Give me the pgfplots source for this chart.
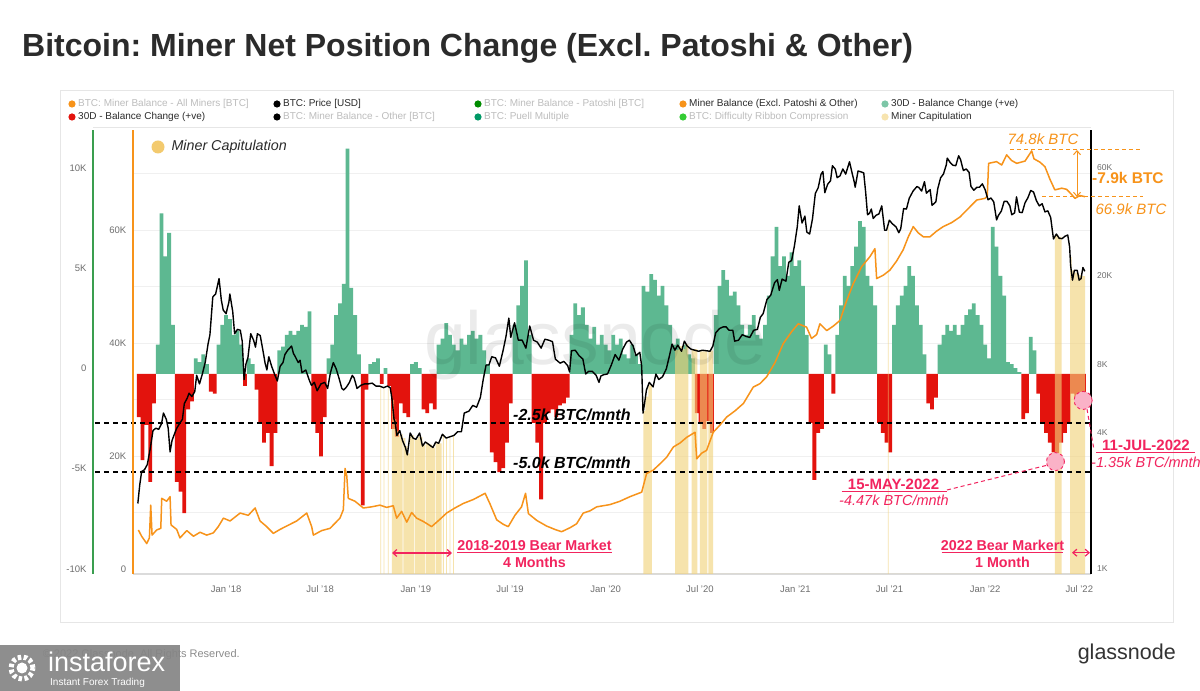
\documentclass[border=0pt]{standalone}
\usepackage{fontspec}
\setmainfont{Liberation Sans}
\usepackage{pgfplots}
\pgfplotsset{compat=1.18}
\usepackage{pgfplotstable}
\usetikzlibrary{arrows.meta}
\frenchspacing

\definecolor{gbar}{HTML}{5DB891}
\definecolor{rbar}{HTML}{E3130D}
\definecolor{oline}{HTML}{F7931A}
\definecolor{capy}{HTML}{F2D27A}
\definecolor{pinkc}{HTML}{F2245E}
\definecolor{greenax}{HTML}{3A9E4F}
\definecolor{tickc}{HTML}{6E6E6E}
\definecolor{lgray}{HTML}{BDBDBD}
\definecolor{dtext}{HTML}{2B2B2B}
\definecolor{gridc}{HTML}{F0F0F0}
\definecolor{framec}{HTML}{E6E6E6}

% 30D balance change (K BTC)
\pgfplotstableread{
x v
2017.54 -2.2
2017.56 -4.4
2017.58 -2.6
2017.60 -5.5
2017.62 -1.5
2017.64 1.5
2017.66 8.2
2017.68 6.0
2017.70 7.2
2017.72 2.5
2017.74 -5.5
2017.76 -6.0
2017.78 -7.1
2017.80 -1.8
2017.82 -1.4
2017.84 0.8
2017.86 0.6
2017.88 1.0
2017.90 0.5
2017.92 -0.9
2017.94 -1.0
2017.96 1.5
2017.98 2.5
2018.00 3.0
2018.02 2.8
2018.04 2.0
2018.06 2.2
2018.08 1.5
2018.10 -0.6
2018.12 0.8
2018.14 0.5
2018.16 -0.8
2018.18 -2.5
2018.20 -3.5
2018.22 -3.0
2018.24 -4.7
2018.26 -3.0
2018.28 1.2
2018.30 1.4
2018.32 2.0
2018.34 2.2
2018.36 2.0
2018.38 2.2
2018.40 2.5
2018.42 2.4
2018.44 3.2
2018.46 -2.5
2018.48 -3.0
2018.50 -4.2
2018.52 -2.2
2018.54 0.8
2018.56 1.5
2018.58 3.0
2018.60 3.6
2018.62 4.6
2018.64 11.5
2018.66 4.4
2018.68 3.0
2018.70 1.0
2018.72 -6.7
2018.74 -0.8
2018.76 0.5
2018.78 0.6
2018.80 0.8
2018.82 -0.5
2018.84 0.3
2018.86 -0.6
2018.88 -2.8
2018.90 -3.2
2018.92 -1.5
2018.94 -2.0
2018.96 -2.2
2018.98 0.5
2019.00 0.6
2019.02 0.3
2019.04 -1.8
2019.06 -2.0
2019.08 -1.5
2019.10 -1.8
2019.12 1.5
2019.14 1.8
2019.16 2.6
2019.18 2.0
2019.20 1.5
2019.22 1.2
2019.24 1.8
2019.26 1.5
2019.28 2.0
2019.30 2.2
2019.32 1.8
2019.34 2.0
2019.36 1.2
2019.38 0.5
2019.40 -4.0
2019.42 -4.5
2019.44 -5.0
2019.46 -4.8
2019.48 -3.5
2019.50 -1.5
2019.52 2.5
2019.54 3.5
2019.56 4.5
2019.58 5.8
2019.60 2.0
2019.62 -2.5
2019.64 -3.5
2019.66 -6.4
2019.68 -2.5
2019.70 -2.0
2019.72 -1.8
2019.74 -2.2
2019.76 -1.6
2019.78 -1.5
2019.80 -1.2
2019.82 2.0
2019.84 3.6
2019.86 3.0
2019.88 3.4
2019.90 2.5
2019.92 1.8
2019.94 2.4
2019.96 1.5
2019.98 2.0
2020.00 1.5
2020.02 1.2
2020.04 2.0
2020.06 1.5
2020.08 1.8
2020.10 1.0
2020.12 0.8
2020.14 1.5
2020.16 1.0
2020.18 0.5
2020.20 4.5
2020.22 4.2
2020.24 5.1
2020.26 4.8
2020.28 4.0
2020.30 4.5
2020.32 3.5
2020.34 2.5
2020.36 1.5
2020.38 1.8
2020.40 1.2
2020.42 1.5
2020.44 1.0
2020.46 0.8
2020.48 -2.0
2020.50 -2.5
2020.52 -2.8
2020.54 -2.4
2020.56 -3.0
2020.58 3.0
2020.60 4.5
2020.62 5.3
2020.64 4.8
2020.66 4.0
2020.68 4.2
2020.70 3.5
2020.72 2.5
2020.74 2.0
2020.76 2.5
2020.78 3.0
2020.80 2.0
2020.82 1.8
2020.84 2.5
2020.86 4.0
2020.88 6.0
2020.90 7.5
2020.92 5.5
2020.94 6.0
2020.96 5.0
2020.98 6.2
2021.00 5.5
2021.02 5.8
2021.04 4.5
2021.06 2.0
2021.08 -2.5
2021.10 -5.4
2021.12 -3.0
2021.14 -2.8
2021.16 1.5
2021.18 1.0
2021.20 -1.0
2021.22 2.0
2021.24 3.5
2021.26 5.0
2021.28 4.5
2021.30 5.5
2021.32 6.5
2021.34 7.8
2021.36 7.5
2021.38 5.0
2021.40 4.5
2021.42 3.5
2021.44 -2.5
2021.46 -3.0
2021.48 -3.5
2021.50 -4.0
2021.52 2.5
2021.54 3.5
2021.56 4.0
2021.58 4.5
2021.60 5.5
2021.62 5.0
2021.64 3.5
2021.66 2.5
2021.68 1.0
2021.70 -1.5
2021.72 -1.8
2021.74 -1.2
2021.76 1.5
2021.78 2.0
2021.80 2.5
2021.82 2.2
2021.84 2.5
2021.86 2.0
2021.88 2.5
2021.90 3.0
2021.92 3.3
2021.94 3.6
2021.96 3.0
2021.98 2.5
2022.00 1.5
2022.02 0.8
2022.04 7.5
2022.06 6.5
2022.08 5.0
2022.10 4.0
2022.12 0.6
2022.14 0.5
2022.16 0.3
2022.18 0.1
2022.20 -2.3
2022.22 -2.0
2022.24 1.9
2022.26 1.2
2022.28 -1.0
2022.30 -2.5
2022.32 -3.0
2022.34 -3.5
2022.36 -4.0
2022.38 -4.47
2022.40 -3.5
2022.42 -3.0
2022.44 -2.5
2022.46 -1.0
2022.48 -1.3
2022.50 -1.5
2022.52 -1.35
}\barsdata

% BTC price (USD)
\pgfplotstableread{
x p
2017.535 1950
2017.545 2350
2017.555 2700
2017.57 2750
2017.585 2900
2017.60 3400
2017.615 4100
2017.63 4200
2017.645 4150
2017.66 4400
2017.67 4900
2017.685 4600
2017.695 4200
2017.705 3300
2017.715 3700
2017.725 3900
2017.74 4200
2017.755 4400
2017.77 4600
2017.78 5400
2017.795 5700
2017.805 6000
2017.82 5800
2017.835 6100
2017.845 7200
2017.86 6600
2017.875 7300
2017.89 8200
2017.905 9900
2017.915 10900
2017.93 16000
2017.945 16500
2017.963 19300
2017.975 15500
2017.985 14000
2018.00 13500
2018.015 15200
2018.02 16500
2018.035 13800
2018.045 11000
2018.06 11500
2018.075 11400
2018.085 10200
2018.095 6900
2018.105 8100
2018.115 8600
2018.13 11000
2018.145 10300
2018.155 9600
2018.165 11000
2018.18 10800
2018.195 9200
2018.205 8200
2018.215 7600
2018.225 8700
2018.24 7900
2018.255 7300
2018.27 6800
2018.285 7900
2018.30 8200
2018.31 8900
2018.325 9300
2018.345 9700
2018.355 9000
2018.365 8700
2018.38 8200
2018.39 8400
2018.40 7400
2018.42 7600
2018.44 6800
2018.45 6500
2018.465 6700
2018.48 6150
2018.50 6600
2018.52 6700
2018.535 6300
2018.55 7400
2018.565 8200
2018.58 7700
2018.595 7000
2018.61 6300
2018.62 6200
2018.635 6400
2018.65 6700
2018.665 7200
2018.675 7000
2018.69 6300
2018.71 6500
2018.73 6600
2018.75 6600
2018.77 6650
2018.79 6450
2018.81 6450
2018.83 6350
2018.85 6450
2018.865 6350
2018.875 5600
2018.885 4600
2018.89 4500
2018.90 3900
2018.915 4100
2018.93 3700
2018.945 3450
2018.955 3200
2018.965 3700
2018.97 4000
2018.985 3800
2019.00 3750
2019.02 4000
2019.035 3500
2019.05 3650
2019.07 3550
2019.09 3450
2019.105 3650
2019.12 3600
2019.14 3950
2019.16 3800
2019.18 3850
2019.20 3900
2019.22 4050
2019.24 4050
2019.255 4900
2019.28 5000
2019.30 5300
2019.32 5200
2019.34 5750
2019.355 6900
2019.37 8000
2019.385 8000
2019.40 8700
2019.42 8600
2019.44 7900
2019.46 9300
2019.475 10700
2019.49 12900
2019.50 10600
2019.52 12300
2019.54 10300
2019.56 10300
2019.58 9500
2019.60 11900
2019.62 10300
2019.64 10100
2019.66 9500
2019.68 10400
2019.70 10300
2019.72 10150
2019.735 8500
2019.76 8150
2019.78 8300
2019.80 7950
2019.81 7450
2019.82 9250
2019.84 9300
2019.86 8800
2019.88 8500
2019.895 7300
2019.91 7500
2019.93 7500
2019.95 7200
2019.965 6700
2019.975 7150
2019.99 7250
2020.01 7300
2020.03 8000
2020.05 8900
2020.07 8400
2020.09 9400
2020.11 10100
2020.125 10300
2020.145 9700
2020.16 8800
2020.18 9100
2020.19 7900
2020.197 4900
2020.205 5400
2020.215 6200
2020.23 6700
2020.25 6400
2020.265 7300
2020.28 6900
2020.30 7100
2020.32 7700
2020.335 8700
2020.35 9900
2020.365 9300
2020.38 9800
2020.40 9200
2020.415 10200
2020.43 9700
2020.45 9400
2020.47 9300
2020.49 9200
2020.51 9300
2020.53 9250
2020.55 9200
2020.565 9700
2020.58 11100
2020.60 11600
2020.62 11800
2020.635 11800
2020.65 11400
2020.67 11400
2020.68 10200
2020.70 10300
2020.72 10900
2020.74 10700
2020.76 10600
2020.78 11400
2020.80 11500
2020.815 13000
2020.83 13500
2020.85 15600
2020.87 16300
2020.89 18500
2020.905 19100
2020.915 17100
2020.93 19200
2020.95 18800
2020.965 22800
2020.98 23200
2020.995 27000
2021.01 32800
2021.02 40500
2021.035 34000
2021.05 36500
2021.06 31000
2021.075 30400
2021.09 35500
2021.105 46000
2021.12 48700
2021.135 55900
2021.145 57500
2021.155 46300
2021.17 50500
2021.185 52300
2021.195 61000
2021.21 58900
2021.22 54000
2021.235 55000
2021.25 59000
2021.265 56000
2021.285 63500
2021.30 56000
2021.31 51700
2021.315 49000
2021.33 57800
2021.345 57300
2021.36 56700
2021.37 46700
2021.38 37000
2021.39 37500
2021.40 39200
2021.41 35600
2021.425 36800
2021.44 37300
2021.455 40500
2021.47 31600
2021.48 31600
2021.495 35000
2021.51 33800
2021.53 32700
2021.545 30800
2021.555 32100
2021.57 39400
2021.585 39200
2021.60 43800
2021.62 47100
2021.64 49300
2021.65 48900
2021.665 47100
2021.68 51800
2021.69 46100
2021.71 47800
2021.72 40700
2021.74 42200
2021.75 48200
2021.765 53900
2021.78 56000
2021.795 61500
2021.80 65900
2021.815 63100
2021.83 61300
2021.845 61000
2021.86 67500
2021.87 65000
2021.885 58100
2021.90 59000
2021.915 57000
2021.925 49400
2021.94 47500
2021.955 48900
2021.97 49000
2021.985 50700
2022.00 47700
2022.015 43100
2022.03 43900
2022.045 42200
2022.06 35100
2022.07 36800
2022.085 38400
2022.10 42400
2022.115 42400
2022.13 40500
2022.14 37000
2022.155 37700
2022.165 44400
2022.18 38000
2022.195 37800
2022.21 41800
2022.225 44000
2022.24 47400
2022.255 46600
2022.27 42700
2022.285 40500
2022.30 41400
2022.315 38100
2022.33 38500
2022.345 36000
2022.355 31000
2022.36 28900
2022.375 30400
2022.39 29100
2022.405 29000
2022.42 29700
2022.435 30100
2022.445 26600
2022.45 22100
2022.46 19000
2022.47 21000
2022.485 21000
2022.495 19000
2022.505 19300
2022.515 21600
2022.525 20800
}\pricedata

% Miner balance excl. Patoshi & Other (K BTC)
\pgfplotstableread{
x b
2017.538 6.9
2017.555 5.8
2017.582 4.5
2017.596 5.5
2017.603 11.3
2017.610 6.0
2017.634 6.9
2017.656 7.2
2017.661 12.5
2017.687 12.0
2017.705 12.8
2017.710 7.8
2017.740 7.0
2017.757 5.5
2017.793 6.8
2017.828 5.8
2017.863 6.5
2017.898 6.0
2017.933 6.4
2017.959 7.5
2017.986 9.0
2018.021 8.5
2018.074 9.9
2018.117 9.5
2018.153 10.8
2018.179 8.5
2018.214 7.5
2018.249 6.3
2018.284 7.0
2018.319 7.6
2018.372 8.5
2018.425 9.9
2018.451 7.5
2018.460 6.0
2018.504 6.8
2018.548 7.2
2018.600 9.0
2018.618 10.5
2018.627 17.8
2018.636 16.5
2018.644 12.5
2018.679 12.0
2018.723 10.8
2018.767 11.0
2018.811 11.3
2018.846 10.9
2018.881 11.2
2018.899 9.0
2018.925 10.2
2018.952 8.3
2018.978 10.0
2019.004 9.0
2019.040 8.4
2019.083 7.5
2019.127 8.8
2019.162 9.9
2019.206 10.8
2019.250 11.6
2019.303 12.3
2019.365 13.4
2019.391 11.5
2019.426 8.7
2019.461 7.9
2019.487 7.5
2019.522 9.5
2019.557 11.0
2019.578 13.4
2019.593 9.8
2019.637 8.6
2019.689 7.6
2019.733 7.0
2019.768 6.6
2019.812 7.3
2019.847 8.0
2019.882 9.9
2019.918 10.3
2019.953 11.0
2019.988 11.2
2020.023 11.4
2020.076 12.0
2020.128 12.8
2020.190 13.6
2020.216 16.9
2020.251 17.5
2020.286 18.6
2020.322 19.8
2020.357 21.6
2020.392 22.3
2020.427 23.3
2020.471 24.2
2020.480 19.5
2020.506 20.5
2020.532 21.0
2020.567 24.2
2020.603 25.5
2020.638 26.9
2020.682 28.0
2020.726 29.3
2020.778 32.2
2020.813 32.8
2020.848 34.0
2020.892 36.5
2020.936 39.9
2020.980 42.0
2021.015 43.4
2021.059 42.8
2021.085 40.8
2021.112 41.5
2021.129 43.4
2021.165 42.2
2021.200 43.0
2021.235 44.0
2021.270 47.5
2021.305 50.5
2021.349 53.5
2021.393 55.3
2021.419 56.7
2021.428 51.4
2021.463 52.0
2021.498 52.9
2021.533 54.5
2021.568 56.5
2021.595 58.8
2021.621 60.6
2021.647 59.5
2021.674 58.8
2021.709 58.8
2021.744 59.8
2021.779 60.6
2021.823 61.3
2021.867 62.3
2021.911 63.8
2021.955 65.3
2021.999 65.6
2022.011 66.0
2022.018 71.8
2022.060 72.1
2022.087 71.5
2022.113 73.3
2022.139 72.3
2022.166 71.8
2022.210 72.2
2022.245 74.0
2022.257 72.6
2022.289 72.0
2022.315 71.2
2022.341 69.0
2022.367 67.1
2022.403 67.4
2022.429 67.2
2022.455 66.3
2022.473 65.6
2022.499 66.1
2022.526 65.9
}\baldata

% Miner capitulation (area under price), 900 = none
\pgfplotstableread{
x p
2018.813 6400
2018.817 900
2018.830 6350
2018.834 900
2018.853 6350
2018.857 900
2018.873 5600
2018.885 4600
2018.897 4100
2018.910 3900
2018.925 3950
2018.930 900
2018.934 3800
2018.945 3500
2018.955 3250
2018.970 3900
2018.980 3900
2018.990 900
2018.994 3750
2019.010 3850
2019.025 3850
2019.035 3550
2019.050 900
2019.054 3600
2019.070 3550
2019.085 3450
2019.100 900
2019.104 3600
2019.120 3600
2019.136 900
2019.143 3950
2019.148 900
2019.160 3800
2019.164 900
2019.178 3850
2019.182 900
2019.196 3880
2019.200 900
2020.199 5000
2020.210 5800
2020.225 6500
2020.243 900
2020.366 9300
2020.385 9700
2020.405 9400
2020.420 9900
2020.436 900
2020.453 9400
2020.483 900
2020.497 9200
2020.536 900
2020.541 9250
2020.567 900
2021.487 35000
2021.491 900
2022.367 30000
2022.385 29500
2022.403 900
2022.447 24000
2022.455 21000
2022.470 20500
2022.490 20000
2022.505 19800
2022.526 900
}\capdata

\pgfplotsset{base/.style={at={(132.7pt,117pt)}, anchor=south west, scale only axis,
  width=958pt, height=444pt, xmin=2017.508, xmax=2022.556}}

\newcommand{\lf}{\fontsize{10}{12}\selectfont}
\newcommand{\tf}{\fontsize{9.5}{11}\selectfont}

\begin{document}
\begin{tikzpicture}
\path[use as bounding box, fill=white] (0,0) rectangle (1200pt,691pt);

\begin{scope}[x=1pt,y=1pt]
% frame
\draw[framec, line width=0.8pt] (60,69) rectangle (1173,601);
\draw[framec, line width=0.8pt] (93,564) -- (1091,564);
% title
\node[anchor=base west, inner sep=0, text=dtext] at (22,634)
  {\fontsize{32}{38}\selectfont\bfseries Bitcoin: Miner Net Position Change (Excl. Patoshi \& Other)};
% legend row 1
\fill[oline] (72,587) circle (3.6);
\node[anchor=west, inner sep=0, text=lgray] at (78,587) {\lf BTC: Miner Balance - All Miners [BTC]};
\fill[black] (277,587) circle (3.6);
\node[anchor=west, inner sep=0, text=dtext] at (283,587) {\lf BTC: Price [USD]};
\fill[green!55!black] (478,587) circle (3.6);
\node[anchor=west, inner sep=0, text=lgray] at (484,587) {\lf BTC: Miner Balance - Patoshi [BTC]};
\fill[oline] (683,587) circle (3.6);
\node[anchor=west, inner sep=0, text=dtext] at (689,587) {\lf Miner Balance (Excl. Patoshi \& Other)};
\fill[gbar!80!white] (885,587) circle (3.6);
\node[anchor=west, inner sep=0, text=dtext] at (891,587) {\lf 30D - Balance Change (+ve)};
% legend row 2
\fill[rbar] (72,574) circle (3.6);
\node[anchor=west, inner sep=0, text=dtext] at (78,574) {\lf 30D - Balance Change (+ve)};
\fill[black] (277,574) circle (3.6);
\node[anchor=west, inner sep=0, text=lgray] at (283,574) {\lf BTC: Miner Balance - Other [BTC]};
\fill[teal!80!green] (478,574) circle (3.6);
\node[anchor=west, inner sep=0, text=lgray] at (484,574) {\lf BTC: Puell Multiple};
\fill[green!75!black!80] (683,574) circle (3.6);
\node[anchor=west, inner sep=0, text=lgray] at (689,574) {\lf BTC: Difficulty Ribbon Compression};
\fill[capy!60!white] (885,574) circle (3.6);
\node[anchor=west, inner sep=0, text=dtext] at (891,574) {\lf Miner Capitulation};
\end{scope}

% grid
\begin{axis}[base, ymin=-0.885, ymax=77.70, ytick={10,20,30,40,50,60,70}, yticklabel=\empty,
  xtick=\empty, axis line style={draw=none}, tick style={draw=none}, ymajorgrids,
  grid style={color=gridc, line width=0.8pt}]
\addplot[draw=none] coordinates {(2018,0)};
\end{axis}

% bars
\begin{axis}[base, ymin=-10.204, ymax=12.449, axis y line=none, axis x line*=bottom,
  x axis line style={draw=black!14, line width=1.4pt, -},
  xtick={2018,2018.496,2019,2019.496,2020,2020.497,2021,2021.496,2022,2022.496},
  xticklabels={Jan '18,Jul '18,Jan '19,Jul '19,Jan '20,Jul '20,Jan '21,Jul '21,Jan '22,Jul '22},
  xticklabel style={font=\tf, text=tickc, yshift=-8pt}, major tick length=0pt]
\addplot[ybar, bar width=0.02, bar shift=0pt, fill=gbar, draw=none, restrict y to domain=0:100]
  table[x=x,y=v]{\barsdata};
\addplot[ybar, bar width=0.02, bar shift=0pt, fill=rbar, draw=none, restrict y to domain=-100:0]
  table[x=x,y=v]{\barsdata};
\end{axis}

% capitulation bands
\begin{axis}[base, ymode=log, ymin=950.3, ymax=87780, hide axis, log origin=infty]
\addplot[ybar interval, fill=capy, fill opacity=0.62, draw=none] table[x=x,y=p]{\capdata};
\end{axis}

% annotations on balance-change scale
\begin{axis}[base, ymin=-10.204, ymax=12.449, hide axis, clip=false]
\addplot[black, line width=1.1pt, dash pattern=on 5pt off 4pt] coordinates {(2017.309,-2.5) (2022.556,-2.5)};
\addplot[black, line width=1.1pt, dash pattern=on 5pt off 4pt] coordinates {(2017.309,-5) (2022.556,-5)};
\end{axis}

% miner balance
\begin{axis}[base, ymin=-0.885, ymax=77.70, axis y line*=left, hide x axis,
  y axis line style={draw=oline, line width=2pt, -}, ytick={0,20,40,60}, yticklabels={0,20K,40K,60K},
  yticklabel style={font=\tf, text=tickc, xshift=-3pt}, major tick length=0pt]
\addplot[oline, line width=1.5pt, line join=round] table[x=x,y=b]{\baldata};
\end{axis}

% price
\begin{axis}[base, ymode=log, ymin=950.3, ymax=87780, axis y line*=right, hide x axis,
  y axis line style={draw=black, line width=1.6pt, -}, ytick={1000,4000,8000,20000,60000},
  yticklabels={1K,4K,8K,20K,60K}, yticklabel style={font=\fontsize{8.5}{10}\selectfont, text=tickc, xshift=3pt},
  major tick length=0pt, minor tick length=0pt, yminorticks=false]
\addplot[black, line width=1.4pt, line join=round] table[x=x,y=p]{\pricedata};
\end{axis}

% highlight circles
\begin{axis}[base, ymin=-10.204, ymax=12.449, hide axis, clip=false]
\addplot[only marks, mark=*, mark size=9pt, mark options={fill=pinkc!35, draw=pinkc, dashed, line width=0.9pt}]
  coordinates {(2022.37,-4.47) (2022.516,-1.35)};
\end{axis}

% green left scale
\begin{axis}[at={(93pt,117pt)}, anchor=south west, scale only axis, width=997.7pt, height=444pt,
  xmin=0, xmax=1, ymin=-10.249, ymax=11.895, axis y line*=left, hide x axis,
  y axis line style={draw=greenax, line width=2pt, -}, ytick={-10,-5,0,5,10},
  yticklabels={-10K,-5K,0,5K,10K}, yticklabel style={font=\tf, text=tickc, xshift=-3pt},
  major tick length=0pt]
\addplot[draw=none] coordinates {(0.5,0)};
\end{axis}

\begin{scope}[x=1pt,y=1pt]
% watermark
\node[text=black, opacity=0.08] at (595,346) {\fontsize{75}{75}\selectfont glassnode};
% inner legend
\fill[capy!90!orange] (158,544) circle (6.5);
\node[anchor=west, text=dtext] at (168,544) {\fontsize{14.3}{16}\selectfont\itshape Miner Capitulation};
% dashed-line labels
\node[anchor=west, inner sep=0] at (513,276) {\fontsize{16}{18}\selectfont\bfseries\itshape -2.5k BTC/mnth};
\node[anchor=west, inner sep=0] at (513,228) {\fontsize{16}{18}\selectfont\bfseries\itshape -5.0k BTC/mnth};
% bear market annotations
\node[text=pinkc] at (534.5,146) {\fontsize{14.3}{16}\selectfont\bfseries 2018-2019 Bear Market};
\draw[pinkc, line width=1pt] (457,138.3) -- (612,138.3);
\node[text=pinkc] at (534.5,129) {\fontsize{14.3}{16}\selectfont\bfseries 4 Months};
\draw[pinkc, line width=1.2pt, {Straight Barb[length=4pt,width=7pt]}-{Straight Barb[length=4pt,width=7pt]}] (392,138) -- (452,138);
\node[text=pinkc] at (1002.5,146) {\fontsize{14.3}{16}\selectfont\bfseries 2022 Bear Markert};
\draw[pinkc, line width=1pt] (941.7,138.3) -- (1063.3,138.3);
\node[text=pinkc] at (1002.5,129) {\fontsize{14.3}{16}\selectfont\bfseries 1 Month};
\draw[pinkc, line width=1.2pt, {Straight Barb[length=4pt,width=7pt]}-{Straight Barb[length=4pt,width=7pt]}] (1072,138.3) -- (1090,138.3);
% 15-MAY-2022
\node[text=pinkc] at (893.5,207) {\fontsize{15}{17}\selectfont\bfseries 15-MAY-2022};
\draw[pinkc, line width=1pt] (841.7,199.3) -- (946.7,199.3);
\node[text=pinkc] at (894,190.3) {\fontsize{14.5}{17}\selectfont\itshape -4.47k BTC/mnth};
\draw[pinkc, line width=1pt, dash pattern=on 4pt off 3pt] (947,201) -- (1048,226);
% 11-JUL-2022
\node[text=pinkc] at (1146,246) {\fontsize{15}{17}\selectfont\bfseries 11-JUL-2022};
\draw[pinkc, line width=1pt] (1096,238.3) -- (1195,238.3);
\node[text=pinkc] at (1146,228.3) {\fontsize{14.5}{17}\selectfont\itshape -1.35k BTC/mnth};
\draw[pinkc, line width=1pt, dash pattern=on 4pt off 3pt] (1087,282) -- (1094,241);
% orange annotations
\node[text=oline] at (1043,552) {\fontsize{15}{17}\selectfont\itshape 74.8k BTC};
\draw[oline, line width=1pt, dash pattern=on 4pt off 3pt] (1010,541) -- (1140,541);
\draw[oline, line width=1pt, dash pattern=on 4pt off 3pt] (1042,494) -- (1143,494);
\draw[oline, line width=1pt, {Straight Barb[length=4pt,width=7pt]}-{Straight Barb[length=4pt,width=7pt]}] (1077,541) -- (1077,494);
\node[anchor=west, inner sep=0, text=oline] at (1092,513) {\fontsize{15.5}{17}\selectfont\bfseries -7.9k BTC};
\node[text=oline] at (1131,482) {\fontsize{15}{17}\selectfont\itshape 66.9k BTC};
% footer
\node[anchor=base east, inner sep=0, text=black!45] at (240,33) {\fontsize{11}{13}\selectfont \textcopyright\ 2022 Glassnode. All Rights Reserved.};
\node[anchor=base east, inner sep=0, text=black!80] at (1176,31) {\fontsize{21.5}{23}\selectfont glassnode};
% instaforex badge
\fill[black!48, opacity=0.92] (0,0) rectangle (180,46);
\draw[white, line width=5pt, dash pattern=on 3.5pt off 2.5pt] (22,23) circle (11);
\fill[white] (22,23) circle (5.5);
\node[anchor=west, inner sep=0, text=white] at (48,29) {\fontsize{27}{28}\selectfont instaforex};
\node[anchor=west, inner sep=0, text=white] at (50,8) {\fontsize{10}{11}\selectfont Instant Forex Trading};
\end{scope}
\end{tikzpicture}
\end{document}
